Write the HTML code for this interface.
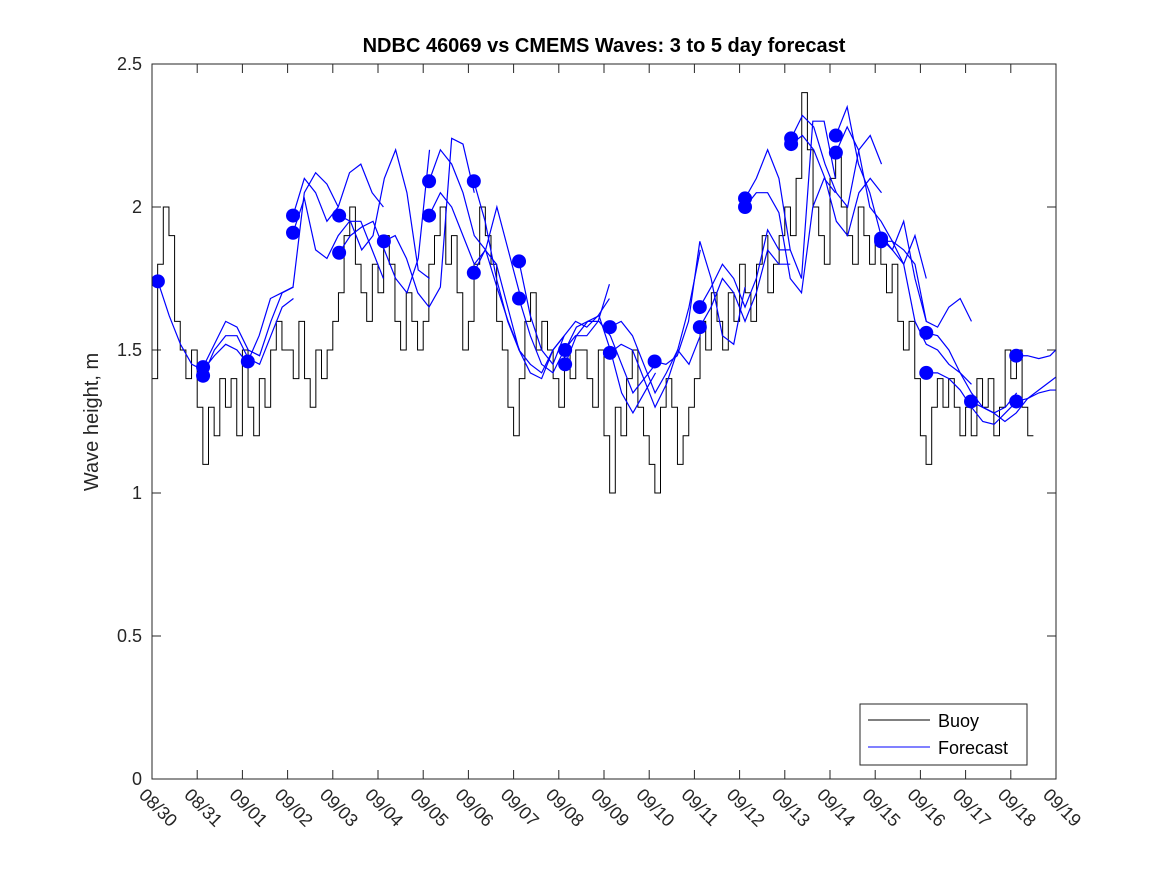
<!DOCTYPE html>
<html><head><meta charset="utf-8"><style>
body{margin:0;background:#fff;}
svg{display:block;font-family:"Liberation Sans","DejaVu Sans",sans-serif;}
</style></head><body>
<svg id="chart" width="1167" height="875" xmlns="http://www.w3.org/2000/svg">
<defs><clipPath id="clip"><rect x="152" y="64" width="904" height="715"/></clipPath></defs>
<rect x="0" y="0" width="1167" height="875" fill="#fff"/>
<text x="604" y="52" text-anchor="middle" font-size="20" font-weight="bold" fill="#000">NDBC 46069 vs CMEMS Waves: 3 to 5 day forecast</text>
<text transform="translate(98,422) rotate(-90)" text-anchor="middle" font-size="20" fill="#262626">Wave height, m</text>
<g id="axes"></g>
<g id="buoy" clip-path="url(#clip)"></g>
<g id="fc" clip-path="url(#clip)"></g>
<rect x="152" y="64" width="904" height="715" fill="none" stroke="#262626" stroke-width="1"/>
<g>
<rect x="860" y="704" width="167" height="61" fill="#fff" stroke="#262626" stroke-width="1"/>
<line x1="868" y1="720" x2="930" y2="720" stroke="#000"/>
<text x="938" y="727" font-size="18" fill="#000">Buoy</text>
<line x1="868" y1="747" x2="930" y2="747" stroke="#00f"/>
<text x="938" y="754" font-size="18" fill="#000">Forecast</text>
</g>
</svg>
<script>
const xLabels=["08/30","08/31","09/01","09/02","09/03","09/04","09/05","09/06","09/07","09/08","09/09","09/10","09/11","09/12","09/13","09/14","09/15","09/16","09/17","09/18","09/19"];
const yTicks=[0,0.5,1,1.5,2,2.5];
const yTickLabels=["0","0.5","1","1.5","2","2.5"];
const buoyStep=0.125;
const buoyValues=[1.4,1.8,2.0,1.9,1.6,1.5,1.4,1.5,
1.3,1.1,1.3,1.2,1.4,1.3,1.4,1.2,
1.5,1.3,1.2,1.4,1.3,1.5,1.6,1.5,
1.5,1.4,1.6,1.4,1.3,1.5,1.4,1.5,
1.6,1.7,1.9,2.0,1.8,1.7,1.6,1.8,
1.7,1.9,1.8,1.6,1.5,1.7,1.6,1.5,
1.6,1.8,1.9,2.0,1.8,1.9,1.7,1.5,
1.6,1.8,2.0,1.9,1.8,1.6,1.5,1.3,
1.2,1.4,1.6,1.7,1.5,1.6,1.5,1.4,
1.3,1.5,1.4,1.5,1.5,1.4,1.3,1.5,
1.2,1.0,1.3,1.2,1.4,1.5,1.3,1.2,
1.1,1.0,1.3,1.4,1.3,1.1,1.2,1.3,
1.4,1.6,1.5,1.7,1.6,1.5,1.7,1.6,
1.8,1.7,1.6,1.8,1.9,1.7,1.8,1.9,
2.0,1.9,2.1,2.4,2.2,2.0,1.9,1.8,
2.1,2.2,2.0,1.9,1.8,2.0,1.9,1.8,
1.9,1.8,1.7,1.8,1.6,1.5,1.6,1.4,
1.2,1.1,1.3,1.4,1.3,1.4,1.3,1.2,
1.3,1.2,1.4,1.3,1.4,1.2,1.3,1.5,
1.4,1.5,1.3,1.2];
const fcStep=0.25;
const fcStarts=[0.13,1.13,1.13,2.12,3.12,3.12,4.14,4.14,5.13,6.13,6.13,7.12,7.12,8.12,8.12,9.14,9.14,10.13,10.13,11.12,12.12,12.12,13.12,13.12,14.14,14.14,15.13,15.13,16.13,16.13,17.13,17.13,18.12,19.12,19.12];
const fcValues=[
[1.74,1.62,1.52,1.45,1.43,1.48,1.52,1.5,1.45],
[1.44,1.52,1.6,1.58,1.5,1.48,1.6,1.7,1.72],
[1.41,1.5,1.55,1.55,1.47,1.45,1.55,1.65,1.68],
[1.46,1.55,1.68,1.7,1.72,2.05,2.12,2.08,2.0],
[1.97,2.1,2.05,1.95,2.0,2.12,2.15,2.05,2.0],
[1.91,2.03,1.85,1.82,1.9,1.95,1.95,1.85,1.75],
[1.97,1.95,1.85,1.9,2.1,2.2,2.05,1.78,1.75],
[1.84,1.9,1.93,1.95,1.85,1.75,1.7,1.82,2.2],
[1.88,1.9,1.82,1.7,1.65,1.72,2.24,2.22,2.05],
[2.09,2.2,2.15,2.05,1.9,1.85,2.0,1.85,1.7],
[1.97,2.05,2.0,1.9,1.8,1.85,1.72,1.6,1.5],
[2.09,1.95,1.75,1.6,1.5,1.45,1.42,1.5,1.55],
[1.77,1.85,1.8,1.65,1.5,1.42,1.4,1.5,1.55],
[1.81,1.62,1.5,1.45,1.55,1.6,1.58,1.62,1.68],
[1.68,1.55,1.45,1.42,1.5,1.55,1.55,1.6,1.73],
[1.50,1.58,1.6,1.6,1.55,1.45,1.35,1.4,1.45],
[1.45,1.55,1.6,1.62,1.5,1.35,1.28,1.35,1.42],
[1.58,1.6,1.55,1.45,1.35,1.42,1.5,1.45,1.55],
[1.49,1.52,1.5,1.4,1.3,1.38,1.5,1.65,1.85],
[1.46,1.45,1.48,1.6,1.88,1.75,1.55,1.52,1.72],
[1.65,1.72,1.8,1.75,1.65,1.75,1.92,1.85,1.85],
[1.58,1.65,1.75,1.7,1.6,1.7,1.85,1.8,1.8],
[2.03,2.1,2.2,2.1,1.85,1.75,2.3,2.3,2.1],
[2.00,2.05,2.05,1.98,1.75,1.7,2.0,2.1,2.05],
[2.24,2.32,2.28,2.15,2.05,2.0,2.2,2.25,2.15],
[2.22,2.25,2.2,2.1,1.95,1.9,2.05,2.1,2.05],
[2.25,2.35,2.15,2.05,1.9,1.85,1.8,1.9,1.75],
[2.19,2.28,2.2,2.0,1.95,1.88,1.85,1.8,1.6],
[1.89,1.85,1.95,1.75,1.6,1.58,1.65,1.68,1.6],
[1.88,1.88,1.8,1.6,1.52,1.5,1.45,1.42,1.38],
[1.56,1.55,1.5,1.42,1.35,1.3,1.28,1.3,1.35],
[1.42,1.42,1.4,1.36,1.3,1.25,1.24,1.28,1.32],
[1.32,1.3,1.28,1.25,1.28,1.33,1.35,1.36,1.36],
[1.48,1.48,1.47,1.48,1.52],
[1.32,1.33,1.36,1.39,1.42]];

const X0=152,X1=1056,Y0=779,Y1=64;
function xs(d){return X0+(X1-X0)*d/20;}
function ys(v){return Y0-(Y0-Y1)*v/2.5;}
const NS="http://www.w3.org/2000/svg";
function mk(tag,attrs,parent){const e=document.createElementNS(NS,tag);for(const k in attrs)e.setAttribute(k,attrs[k]);parent.appendChild(e);return e;}
const axes=document.getElementById('axes');
xLabels.forEach((lab,i)=>{
  const x=xs(i);
  if(i>0&&i<20){
    const t1=mk('line',{x1:x,y1:Y0,x2:x,y2:Y0-9,stroke:'#262626'},axes);
    
    
    const t2=mk('line',{x1:x,y1:Y1,x2:x,y2:Y1+9,stroke:'#262626'},axes);
    
    
  }
  const t=mk('text',{transform:`translate(${x-14},${Y0+17}) rotate(45)`,'font-size':18,fill:'#262626'},axes);
  t.textContent=lab;
  
  
});
yTicks.forEach((v,i)=>{
  const y=ys(v);
  if(i>0&&i<yTicks.length-1){
    const a=mk('line',{x1:X0,y1:y,x2:X0+9,y2:y,stroke:'#262626'},axes);
    
    
    const b=mk('line',{x1:X1,y1:y,x2:X1-9,y2:y,stroke:'#262626'},axes);
    
    
  }
  const t=mk('text',{x:X0-10,y:y+6,'text-anchor':'end','font-size':18,fill:'#262626'},axes);
  t.textContent=yTickLabels[i];
  
  
});
let d='';
buoyValues.forEach((v,i)=>{
  const x=xs(i*buoyStep), y=ys(v);
  if(i===0) d+=`M${x},${y}`; else d+=`H${x}V${y}`;
});
d+=`H${xs(buoyValues.length*buoyStep)}`;
const bp=mk('path',{d:d,fill:'none',stroke:'#000','stroke-width':1},document.getElementById('buoy'));


const fg=document.getElementById('fc');
fcValues.forEach((vals,k)=>{
  const s=fcStarts[k];
  const pts=vals.map((v,j)=>`${xs(s+j*fcStep)},${ys(v)}`).join(' ');
  const pl=mk('polyline',{points:pts,fill:'none',stroke:'#00f','stroke-width':1.2},fg);
  
  
});
fcValues.forEach((vals,k)=>{
  const c=mk('circle',{cx:xs(fcStarts[k]),cy:ys(vals[0]),r:7,fill:'#00f'},fg);
  
  
});
</script>
</body></html>
